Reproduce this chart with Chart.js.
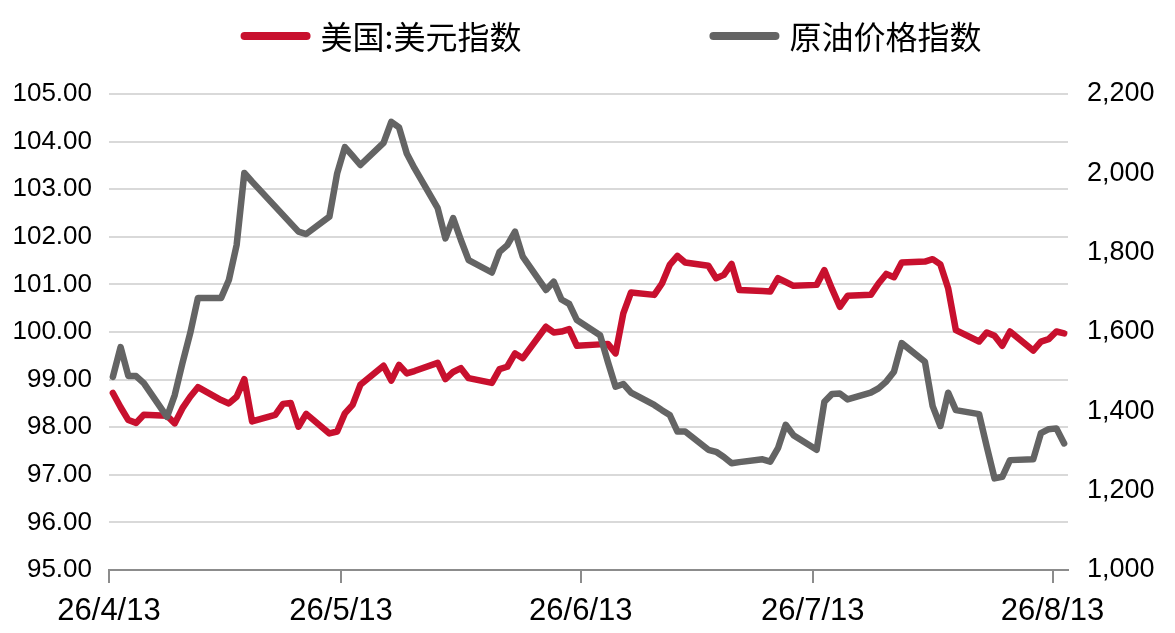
<!DOCTYPE html>
<html>
<head>
<meta charset="utf-8">
<script src="https://cdn.jsdelivr.net/npm/chart.js@4.4.1/dist/chart.umd.min.js"></script>
<style>
html,body{margin:0;padding:0;background:#fff;}
canvas{display:block;}
</style>
</head>
<body>
<canvas id="c" width="1175" height="633"></canvas>
<script>
// ---------- data ----------
const seriesNames = ['美国:美元指数', '原油价格指数'];
const startDate = '2026-04-13';
const endDate = '2026-08-15';
const dates = [
  '2026-04-13','2026-04-14','2026-04-15','2026-04-16','2026-04-17',
  '2026-04-20','2026-04-21','2026-04-22','2026-04-23','2026-04-24',
  '2026-04-27','2026-04-28','2026-04-29','2026-04-30','2026-05-01',
  '2026-05-04','2026-05-05','2026-05-06','2026-05-07','2026-05-08',
  '2026-05-11','2026-05-12','2026-05-13','2026-05-14','2026-05-15',
  '2026-05-18','2026-05-19','2026-05-20','2026-05-21','2026-05-22',
  '2026-05-25','2026-05-26','2026-05-27','2026-05-28','2026-05-29',
  '2026-06-01','2026-06-02','2026-06-03','2026-06-04','2026-06-05',
  '2026-06-08','2026-06-09','2026-06-10','2026-06-11','2026-06-12',
  '2026-06-15','2026-06-16','2026-06-17','2026-06-18','2026-06-19',
  '2026-06-22','2026-06-23','2026-06-24','2026-06-25','2026-06-26',
  '2026-06-29','2026-06-30','2026-07-01','2026-07-02','2026-07-03',
  '2026-07-06','2026-07-07','2026-07-08','2026-07-09','2026-07-10',
  '2026-07-13','2026-07-14','2026-07-15','2026-07-16','2026-07-17',
  '2026-07-20','2026-07-21','2026-07-22','2026-07-23','2026-07-24',
  '2026-07-27','2026-07-28','2026-07-29','2026-07-30','2026-07-31',
  '2026-08-03','2026-08-04','2026-08-05','2026-08-06','2026-08-07',
  '2026-08-10','2026-08-11','2026-08-12','2026-08-13','2026-08-14'
];
const usdIndex = [
  98.72, 98.42, 98.15, 98.09, 98.26,
  98.24, 98.08, 98.40, 98.64, 98.84,
  98.57, 98.50, 98.64, 99.01, 98.12,
  98.26, 98.49, 98.51, 98.01, 98.28,
  97.87, 97.91, 98.29, 98.47, 98.89,
  99.29, 98.98, 99.31, 99.13, 99.18,
  99.35, 99.01, 99.16, 99.24, 99.03,
  98.93, 99.22, 99.27, 99.55, 99.45,
  100.11, 99.99, 100.01, 100.06, 99.71,
  99.74, 99.75, 99.55, 100.39, 100.83,
  100.78, 101.02, 101.41, 101.60, 101.46,
  101.39, 101.13, 101.20, 101.43, 100.88,
  100.86, 100.85, 101.13, 101.05, 100.97,
  100.99, 101.30, 100.90, 100.53, 100.76,
  100.78, 101.02, 101.22, 101.15, 101.46,
  101.48, 101.53, 101.42, 100.92, 100.04,
  99.80, 99.99, 99.92, 99.71, 100.01,
  99.61, 99.80, 99.85, 100.01, 99.97
];
const oilIndex = [
  1487, 1562, 1489, 1489, 1471,
  1386, 1441, 1522, 1597, 1686,
  1686, 1731, 1819, 2001, 1979,
  null, null, null, 1853, 1847,
  1891, 2000, 2066, 2044, 2021,
  2077, 2130, 2116, 2050, 2013,
  1912, 1836, 1887, 1832, 1781,
  1750, 1802, 1819, 1853, 1790,
  1706, 1727, 1682, 1671, 1630,
  1592, 1525, 1462, 1469, 1447,
  1416, 1403, 1391, 1349, 1349,
  1303, 1298, 1285, 1269, 1272,
  1279, 1273, 1307, 1366, 1340,
  1303, 1424, 1444, 1445, 1430,
  1447, 1458, 1475, 1500, 1572,
  1525, 1413, 1363, 1447, 1403,
  1393, 1311, 1231, 1235, 1277,
  1279, 1345, 1355, 1357, 1319
];
const tickDates = ['2026-04-13', '2026-05-13', '2026-06-13', '2026-07-13', '2026-08-13'];
const tickLabels = ['26/4/13', '26/5/13', '26/6/13', '26/7/13', '26/8/13'];
const leftAxis = {min: 95, max: 105, step: 1};
const rightAxis = {min: 1000, max: 2200, step: 200};

// ---------- helpers ----------
const DAY = 86400000;
const dayOf = d => (Date.parse(d) - Date.parse(startDate)) / DAY;
const tickDays = tickDates.map(dayOf);
// points sit in the middle of their day on the date axis
const toPoints = vals => dates.map((d, i) => ({x: dayOf(d) + 0.5, y: vals[i]}));

const RED = '#C8102E';
const GRAY = '#646464';

const legendPlugin = {
  id: 'topLegend',
  afterDraw(chart) {
    const ctx = chart.ctx;
    const dsets = chart.data.datasets;
    ctx.save();
    ctx.font = '32px "Noto Sans CJK SC", sans-serif';
    ctx.textBaseline = 'middle';
    ctx.textAlign = 'left';
    const lineLen = 70, textGap = 10, itemGap = 188, y = 36, center = 611;
    const widths = dsets.map(ds => ctx.measureText(ds.label).width);
    const total = widths.reduce((a, w) => a + lineLen + textGap + w, 0) + itemGap * (dsets.length - 1);
    let x = center - total / 2;
    dsets.forEach((ds, i) => {
      ctx.strokeStyle = ds.borderColor;
      ctx.lineWidth = 8;
      ctx.lineCap = 'round';
      ctx.beginPath();
      ctx.moveTo(x + 4, y);
      ctx.lineTo(x + lineLen - 4, y);
      ctx.stroke();
      ctx.fillStyle = '#000';
      ctx.fillText(ds.label, x + lineLen + textGap, y + 1);
      x += lineLen + textGap + widths[i] + itemGap;
    });
    ctx.restore();
  }
};

new Chart(document.getElementById('c'), {
  type: 'line',
  data: {
    datasets: [
      {
        label: seriesNames[0], data: toPoints(usdIndex), yAxisID: 'y',
        borderColor: RED, backgroundColor: RED, borderWidth: 6.5,
        pointRadius: 0, tension: 0, borderJoinStyle: 'round', borderCapStyle: 'round', order: 1
      },
      {
        label: seriesNames[1], data: toPoints(oilIndex), yAxisID: 'y1',
        borderColor: GRAY, backgroundColor: GRAY, borderWidth: 6.5,
        pointRadius: 0, tension: 0, borderJoinStyle: 'round', borderCapStyle: 'round',
        spanGaps: true, order: 0
      }
    ]
  },
  options: {
    responsive: false,
    animation: false,
    devicePixelRatio: 1,
    layout: {padding: {top: 94, left: 0, right: 0, bottom: 0}},
    plugins: {legend: {display: false}, tooltip: {enabled: false}},
    scales: {
      x: {
        type: 'linear',
        min: 0,
        max: dayOf(endDate),
        afterBuildTicks: s => { s.ticks = tickDays.map(v => ({value: v})); },
        afterFit: s => { s.height = 63; },
        ticks: {
          autoSkip: false, maxRotation: 0, minRotation: 0, padding: 10,
          color: '#000', font: {family: '"Liberation Sans", Arial, sans-serif', size: 31},
          callback: v => tickLabels[tickDays.indexOf(v)] ?? ''
        },
        grid: {drawOnChartArea: false, drawTicks: true, tickLength: 13, color: '#8c8c8c', lineWidth: 2},
        border: {display: true, color: '#8c8c8c', width: 2}
      },
      y: {
        position: 'left',
        min: leftAxis.min, max: leftAxis.max,
        afterFit: s => { s.width = 109; },
        ticks: {
          stepSize: leftAxis.step, padding: 17, color: '#000',
          font: {family: '"Liberation Sans", Arial, sans-serif', size: 26},
          callback: v => Number(v).toFixed(2)
        },
        grid: {color: '#d9d9d9', lineWidth: 2, drawTicks: false},
        border: {display: false}
      },
      y1: {
        position: 'right',
        min: rightAxis.min, max: rightAxis.max,
        afterFit: s => { s.width = 107; },
        ticks: {
          stepSize: rightAxis.step, padding: 19, color: '#000',
          font: {family: '"Liberation Sans", Arial, sans-serif', size: 27},
          callback: v => Number(v).toLocaleString('en-US')
        },
        grid: {drawOnChartArea: false, drawTicks: false},
        border: {display: false}
      }
    }
  },
  plugins: [legendPlugin]
});
</script>
</body>
</html>
